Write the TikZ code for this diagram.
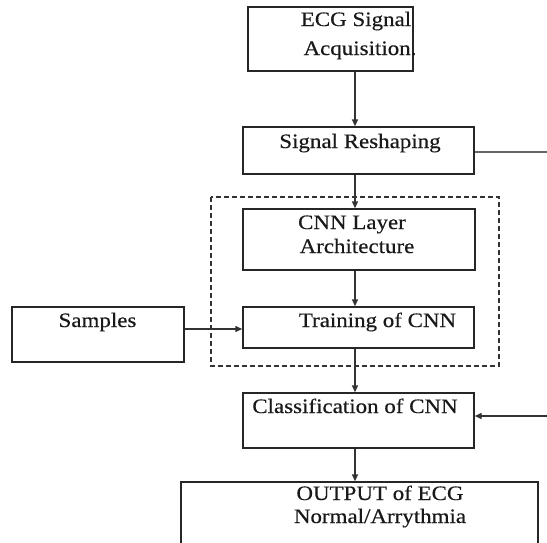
\documentclass[tikz,border=0pt]{standalone}
\usepackage{fontspec}
\setmainfont{Liberation Serif}[FakeStretch=1.12,FakeBold=0.4]
\usetikzlibrary{arrows.meta}
\begin{document}
\begin{tikzpicture}[x=1pt,y=-1pt,
  box/.style={draw=black!85,line width=1.4pt,inner sep=0pt},
  lbl/.style={font=\fontsize{20.5}{24}\selectfont,inner sep=0pt,anchor=base,text=black!90},
  conn/.style={line width=1.4pt,draw=black!80,-{Triangle[length=7pt,width=6pt]}},
  plain/.style={line width=1.4pt,draw=black!60}]
\useasboundingbox (0,0) rectangle (547,542);
% boxes
\node[box,minimum width=165pt,minimum height=64pt] (ecg) at (330.5,39) {};
\node[box,minimum width=231pt,minimum height=47pt] (resh) at (358.5,150.5) {};
\draw[dashed,line width=1.3pt,draw=black!80,dash pattern=on 5pt off 3pt] (211,197) rectangle (499,366);
\node[box,minimum width=232pt,minimum height=61pt] (cnn) at (359,239.5) {};
\node[box,minimum width=231pt,minimum height=41pt] (train) at (358.5,327.5) {};
\node[box,minimum width=172pt,minimum height=55pt] (samp) at (98,334.5) {};
\node[box,minimum width=231pt,minimum height=55pt] (cls) at (358.5,420.5) {};
\node[box,minimum width=357pt,minimum height=70pt] (out) at (359.5,517) {};
% texts
\node[lbl] (t1) at (356,26) {ECG Signal};
\node[lbl] (t2) at (360,55) {Acquisition.};
\node[lbl] (t3) at (360,148) {Signal Reshaping};
\node[lbl] (t4) at (352,229) {CNN Layer};
\node[lbl] (t5) at (357,253) {Architecture};
\node[lbl] (t6) at (377.5,327) {Training of CNN};
\node[lbl] (t7) at (97.5,327) {Samples};
\node[lbl] (t8) at (355,413) {Classification of CNN};
\node[lbl] (t9) at (380,500) {OUTPUT of ECG};
\node[lbl] (t10) at (380,523) {Normal/Arrythmia};
% connectors
\coordinate (r1) at (547,152);
\coordinate (r2) at (547,416);
\draw[conn] (ecg.south -| 355,0) -- (resh.north -| 355,0);
\draw[conn] (resh.south -| 355,0) -- (cnn.north -| 355,0);
\draw[conn] (cnn.south -| 355,0) -- (train.north -| 355,0);
\draw[conn] (train.south -| 355,0) -- (cls.north -| 355,0);
\draw[conn] (cls.south -| 355,0) -- (out.north -| 355,0);
\draw[conn] (samp.east |- 0,329) -- (train.west |- 0,329);
\draw[plain] (resh.east |- r1) -- (r1);
\draw[conn] (r2) -- (cls.east |- r2);
\end{tikzpicture}
\end{document}
